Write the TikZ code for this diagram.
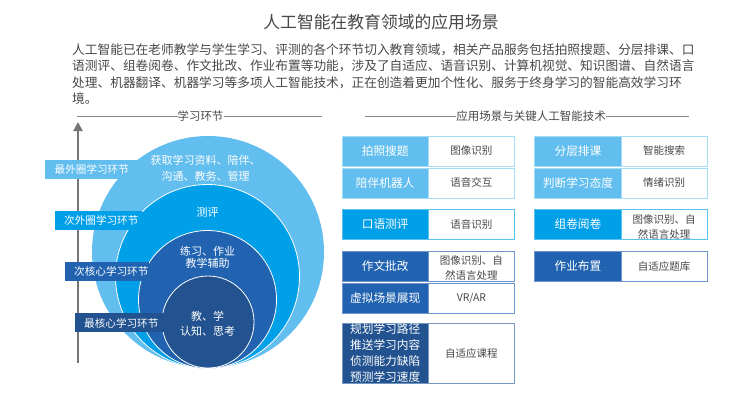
\documentclass[tikz,border=0pt]{standalone}
\usepackage{fontspec}
\setmainfont{Noto Sans CJK SC}
\usetikzlibrary{arrows.meta}
\definecolor{cA}{HTML}{62BEEE}
\definecolor{cB}{HTML}{00A0E9}
\definecolor{cC}{HTML}{2163B0}
\definecolor{cD}{HTML}{22528F}
\definecolor{bA}{HTML}{A5DDF6}
\definecolor{bB}{HTML}{5CC1EF}
\definecolor{bC}{HTML}{6E94CC}
\definecolor{bD}{HTML}{7397BE}
\definecolor{txt}{HTML}{484848}
\definecolor{rulec}{HTML}{8A8A8A}
\newcommand{\fs}[1]{\fontsize{#1}{#1}\selectfont}
\newcommand{\fwc}{\symbol{"FF0C}}
\newcommand{\cellrow}[9]{% name, x0, xsplit, x1, y0, y1, fill, border, right text
  \node[headcell, fill=#7, draw=#8, minimum width={(#3-#2)*1pt}, minimum height={(#6-#5)*1pt}, anchor=north west] (#1l) at (#2,#5) {\strut};
  \node[techcell, draw=#8, minimum width={(#4-#3)*1pt}, minimum height={(#6-#5)*1pt}, anchor=north west] (#1r) at (#3,#5) {#9};
}
\tikzset{
  headcell/.style={inner sep=0pt, line width=0.9pt, text=white},
  techcell/.style={inner sep=0pt, line width=0.9pt, fill=white, text=txt, font=\fs{10.5}, align=center},
  headtext/.style={text=white, font=\fs{11.7}, align=center, inner sep=0pt},
  layerlabel/.style={text=white, font=\fs{10.6}, inner sep=0pt, anchor=west, minimum height=19pt},
  circletext/.style={text=white, font=\fs{11}, align=center, inner sep=0pt},
  bodyline/.style={text=txt, font=\fs{12.7}, anchor=west, inner sep=0pt},
  sechead/.style={text=txt, inner sep=0pt},
  secrule/.style={draw=rulec, line width=0.9pt},
  ring/.style={draw=white, line width=0.8pt}
}
\begin{document}
\begin{tikzpicture}[x=1pt,y=-1pt]
\useasboundingbox (0,0) rectangle (749,400);
\fill[white] (0,0) rectangle (749,400);

\node[text=txt, font=\fs{16.8}, inner sep=0pt] (title) at (381,22) {人工智能在教育领域的应用场景};
\node[bodyline] (b1) at (72,50) {人工智能已在老师教学与学生学习、评测的各个环节切入教育领域\fwc 相关产品服务包括拍照搜题、分层排课、口};
\node[bodyline] (b2) at (72,66) {语测评、组卷阅卷、作文批改、作业布置等功能\fwc 涉及了自适应、语音识别、计算机视觉、知识图谱、自然语言};
\node[bodyline] (b3) at (72,83) {处理、机器翻译、机器学习等多项人工智能技术\fwc 正在创造着更加个性化、服务于终身学习的智能高效学习环};
\node[bodyline] (b4) at (72,99) {境。};

\node[sechead, font=\fs{11.4}] (h1) at (200.5,116) {学习环节};
\coordinate (h1a) at (77,116);
\coordinate (h1b) at (322,116);
\draw[secrule] (h1a) -- (h1.west);
\draw[secrule] (h1.east) -- (h1b);
\node[sechead, font=\fs{11.5}] (h2) at (531,116) {应用场景与关键人工智能技术};
\coordinate (h2a) at (365,116);
\coordinate (h2b) at (689,116);
\draw[secrule] (h2a) -- (h2.west);
\draw[secrule] (h2.east) -- (h2b);

\coordinate (axA) at (78,363);
\coordinate (axB) at (78,122);
\draw[draw=rulec!85!black, line width=2.6pt, -{Triangle[length=9pt,width=9pt]}] (axA) -- (axB);

\fill[cA] (208,252) circle (116pt);
\filldraw[fill=cB, ring] (207.5,276.5) circle (92pt);
\filldraw[fill=cC, ring] (207.5,299.5) circle (69pt);
\filldraw[fill=cD, ring] (208,322) circle (46pt);

\fill[cA] (45,160) rectangle (137,179);
\fill[cB] (55,211) rectangle (142,230);
\fill[cC] (65,262) rectangle (149,281);
\fill[cD] (75,313) rectangle (164,332);

\node[layerlabel] (l1) at (54.5,169.5) {最外圈学习环节};
\node[layerlabel] (l2) at (64,220.5) {次外圈学习环节};
\node[layerlabel] (l3) at (74,271.5) {次核心学习环节};
\node[layerlabel] (l4) at (84,323) {最核心学习环节};

\node[circletext] (t1) at (205.5,168) {获取学习资料、陪伴、\\[5pt]沟通、教务、管理};
\node[circletext] (t2) at (207.5,212) {测评};
\node[circletext] (t3) at (207.5,257) {练习、作业\\[1pt]教学辅助};
\node[circletext] (t4) at (207.5,324) {教、学\\[4pt]认知、思考};

\cellrow{a}{341.5}{428}{514}{135.5}{165.5}{cA}{bA}{图像识别}
\cellrow{b}{341.5}{428}{514}{167.5}{197.5}{cA}{bA}{语音交互}
\cellrow{c}{341.5}{428}{514}{209}{239}{cB}{bB}{语音识别}
\cellrow{d}{341.5}{428}{514}{251}{280.5}{cC}{bC}{\rule{0pt}{13pt}图像识别、自\\[4.5pt]然语言处理}
\cellrow{e}{341.5}{428}{514}{283}{313}{cC}{bC}{VR/AR}
\cellrow{f}{341.5}{428}{514}{323}{382.5}{cD}{bD}{自适应课程}
\cellrow{g}{534}{621}{706.5}{135.5}{165.5}{cA}{bA}{智能搜索}
\cellrow{h}{534}{621}{706.5}{167.5}{197.5}{cA}{bA}{情绪识别}
\cellrow{i}{534}{621}{706.5}{209}{239}{cB}{bB}{\rule{0pt}{13pt}图像识别、自\\[4.5pt]然语言处理}
\cellrow{j}{534}{621}{706.5}{251}{280.5}{cC}{bC}{自适应题库}

\node[headtext] (at) at (al) {拍照搜题};
\node[headtext] (bt) at (bl) {陪伴机器人};
\node[headtext] (ct) at (cl) {口语测评};
\node[headtext] (dt) at (dl) {作文批改};
\node[headtext] (et) at (el) {虚拟场景展现};
\node[headtext] (ft) at (fl) {规划学习路径\\[4.3pt]推送学习内容\\[4.3pt]侦测能力缺陷\\[4.3pt]预测学习速度};
\node[headtext] (gt) at (gl) {分层排课};
\node[headtext] (ht) at (hl) {判断学习态度};
\node[headtext] (it) at (il) {组卷阅卷};
\node[headtext] (jt) at (jl) {作业布置};
\end{tikzpicture}
\end{document}
